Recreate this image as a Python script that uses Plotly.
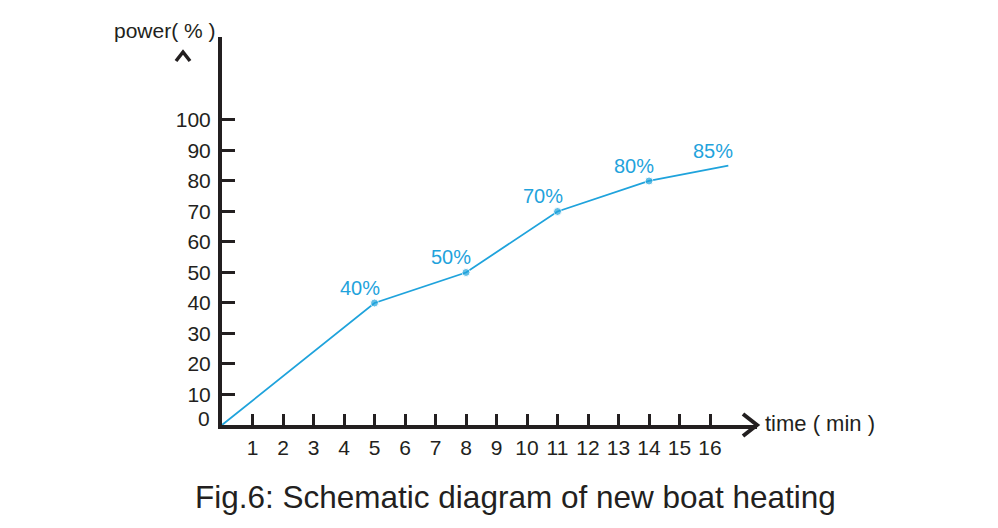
import plotly.graph_objects as go

# data
time_min = [0, 5, 8, 11, 14, 16.6]
power_pct = [0, 40, 50, 70, 80, 85]
point_labels = ["", "40%", "50%", "70%", "80%", "85%"]
x_ticks = list(range(1, 17))
y_ticks = list(range(10, 101, 10))

W, H = 998, 528
ML, MR, MT, MB = 222, 241, 37, 103
XMAX = 17.54
YMAX = 127.2
FONT = "Liberation Sans, Arial, sans-serif"
DARK = "#231f20"
BLUE = "#1fa3dc"

def px(x):
    return (x - ML) / (W - ML - MR)

def py(y):
    return (H - MB - y) / (H - MT - MB)

fig = go.Figure()
fig.add_trace(go.Scatter(
    x=time_min, y=power_pct,
    mode="lines+markers",
    line=dict(color=BLUE, width=1.8),
    marker=dict(color=BLUE, size=[0, 8, 8, 8, 8, 0]),
    cliponaxis=False,
    hoverinfo="skip",
))

# point labels
for xv, yv, lab in zip(time_min, power_pct, point_labels):
    if lab:
        fig.add_annotation(x=xv, y=yv, xref="x", yref="y", text=lab, showarrow=False,
                           xanchor="center", yanchor="middle", xshift=-15, yshift=15,
                           font=dict(size=20, color=BLUE))

fig.update_layout(
    width=W, height=H,
    margin=dict(l=ML, r=MR, t=MT, b=MB),
    paper_bgcolor="white", plot_bgcolor="white",
    showlegend=False,
    font=dict(family=FONT, color=DARK, size=21),
    xaxis=dict(
        range=[0, XMAX], showgrid=False, zeroline=False,
        showline=True, linecolor=DARK, linewidth=4,
        tickmode="array", tickvals=x_ticks, ticktext=[str(v) for v in x_ticks],
        ticks="inside", ticklen=11, tickwidth=3, tickcolor=DARK,
        tickfont=dict(size=21, color=DARK), ticklabelstandoff=1,
    ),
    yaxis=dict(
        range=[0, YMAX], showgrid=False, zeroline=False,
        showline=True, linecolor=DARK, linewidth=4,
        tickmode="array", tickvals=y_ticks, ticktext=[str(v) for v in y_ticks],
        ticks="inside", ticklen=13, tickwidth=3, tickcolor=DARK,
        tickfont=dict(size=21, color=DARK), ticklabelstandoff=3,
    ),
)

# "0" label at origin
fig.add_annotation(x=0, y=0, xref="x", yref="y", text="0", showarrow=False,
                   xanchor="right", yanchor="middle", xshift=-10, yshift=7,
                   font=dict(size=21, color=DARK))

# axis titles
fig.add_annotation(x=px(112), y=py(30), xref="paper", yref="paper",
                   text="power( % )", showarrow=False, xanchor="left", yanchor="middle",
                   font=dict(size=21, color=DARK))
fig.add_annotation(x=px(763), y=py(423), xref="paper", yref="paper",
                   text="time ( min )", showarrow=False, xanchor="left", yanchor="middle",
                   font=dict(size=22, color=DARK))

# figure caption
fig.add_annotation(x=px(515), y=py(497), xref="paper", yref="paper",
                   text="Fig.6: Schematic diagram of new boat heating", showarrow=False,
                   xanchor="center", yanchor="middle",
                   font=dict(size=31.5, color=DARK))

# arrowheads
def path(points):
    return "M " + " L ".join(f"{px(a)},{py(b)}" for a, b in points)

fig.add_shape(type="path", xref="paper", yref="paper",
              path=path([(743, 414), (757, 425), (743, 436)]),
              line=dict(color=DARK, width=4))
fig.add_shape(type="path", xref="paper", yref="paper",
              path=path([(176, 61), (183, 52), (190, 61)]),
              line=dict(color=DARK, width=3.5))

fig.write_html("out.html", config={"displayModeBar": False},
               post_script="document.body.style.margin='0';")
